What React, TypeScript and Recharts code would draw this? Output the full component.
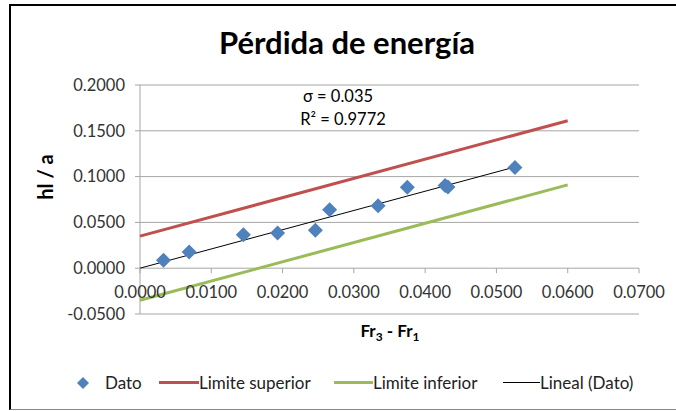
import { ScatterChart, Scatter, XAxis, YAxis, CartesianGrid, Legend, Customized } from 'recharts';

// Datos medidos
const datoX = [0.0033, 0.0069, 0.0145, 0.0193, 0.0246, 0.0266, 0.0334, 0.0375, 0.0428, 0.0432, 0.0526];
const datoY = [0.0087, 0.0178, 0.0364, 0.0383, 0.0415, 0.0637, 0.0681, 0.0885, 0.0903, 0.0886, 0.1100];

// limites (+/- sigma) y linea de tendencia
const limX = [0, 0.06];
const supY = [0.035, 0.161];
const infY = [-0.035, 0.091];
const linX = [0, 0.0526];
const linY = [0, 0.1105];

const xTicks = [0, 0.01, 0.02, 0.03, 0.04, 0.05, 0.06, 0.07];
const yTicks = [-0.05, 0, 0.05, 0.1, 0.15, 0.2];

const dato = datoX.map((x, i) => ({ x, y: datoY[i] }));
const superior = limX.map((x, i) => ({ x, y: supY[i] }));
const inferior = limX.map((x, i) => ({ x, y: infY[i] }));
const lineal = linX.map((x, i) => ({ x, y: linY[i] }));

const FONT = 'Lato, "Open Sans", sans-serif';
const GRID = '#a6a6a6';
const W = 676;
const H = 411;
const LEGEND_H = 20;
const M = { top: 85, right: 37, bottom: 67 - LEGEND_H, left: 70 };
const PLOT_H = 229;
const ZERO_SHIFT = PLOT_H * (0.05 / 0.25);

const Diamond = (props: any) => {
  const { cx, cy } = props;
  const r = 7.5;
  return <polygon points={`${cx},${cy - r} ${cx + r},${cy} ${cx},${cy + r} ${cx - r},${cy}`} fill="#4f81bd" />;
};

const NoShape = () => <g />;

// eje X dibujado en y = 0 como en Excel
const XTick = (props: any) => {
  const { x, y, payload } = props;
  const y0 = y - ZERO_SHIFT;
  return (
    <g>
      <line x1={x} x2={x} y1={y0} y2={y0 + 5} stroke={GRID} />
      <text x={x} y={y0 + 30} textAnchor="middle" fontSize={16.5} fill="#333" fontFamily={FONT}>
        {payload.value.toFixed(4)}
      </text>
    </g>
  );
};

const Texts = () => (
  <g fontFamily={FONT}>
    <text x={347} y={54} textAnchor="middle" fontSize={31} fontWeight="bold" fill="#000">Pérdida de energía</text>
    <text x={338} y={102} textAnchor="middle" fontSize={16.5} fill="#000">σ = 0.035</text>
    <text x={343} y={125} textAnchor="middle" fontSize={16.5} fill="#000">R² = 0.9772</text>
    <text x={53} y={177} textAnchor="middle" fontSize={20} fontWeight="bold" fill="#000" transform="rotate(-90 53 177)">hl / a</text>
    <text x={390} y={337} textAnchor="middle" fontSize={17} fontWeight="bold" fill="#000">
      Fr<tspan fontSize={12} dy={4}>3</tspan><tspan dy={-4}> - Fr</tspan><tspan fontSize={12} dy={4}>1</tspan>
    </text>
  </g>
);

const LegendBox = () => {
  const item = { display: 'flex', alignItems: 'center', position: 'absolute' as const, top: 0 };
  const txt = { fontSize: 17, color: '#222', fontFamily: FONT, whiteSpace: 'nowrap' as const };
  return (
    <div style={{ position: 'relative', height: LEGEND_H, width: W }}>
      <div style={{ ...item, left: 77 }}>
        <svg width={12} height={12}><polygon points="6,0 12,6 6,12 0,6" fill="#4f81bd" /></svg>
        <span style={{ ...txt, marginLeft: 16 }}>Dato</span>
      </div>
      <div style={{ ...item, left: 159 }}>
        <div style={{ width: 40, height: 3, background: '#c0504d' }} />
        <span style={txt}>Limite superior</span>
      </div>
      <div style={{ ...item, left: 334 }}>
        <div style={{ width: 39, height: 3, background: '#9bbb59' }} />
        <span style={txt}>Limite inferior</span>
      </div>
      <div style={{ ...item, left: 503 }}>
        <div style={{ width: 37, height: 1, background: '#000' }} />
        <span style={txt}>Lineal (Dato)</span>
      </div>
    </div>
  );
};

export default function App() {
  return (
    <div style={{ position: 'absolute', left: 0, top: 0, width: W, height: H, background: '#fff', overflow: 'hidden' }}>
      <div style={{ position: 'absolute', left: 9, top: 4, width: 720, height: 403, borderTop: '2px solid #000', borderLeft: '2px solid #000', borderBottom: '1px solid #888' }} />
      <ScatterChart width={W} height={H} margin={M} style={{ position: 'absolute', left: 0, top: 0 }}>
        <CartesianGrid vertical={false} stroke={GRID} />
        <XAxis
          type="number"
          dataKey="x"
          domain={[0, 0.07]}
          ticks={xTicks}
          axisLine={false}
          tickLine={false}
          tickSize={0}
          tickMargin={0}
          height={30}
          tick={<XTick />}
          interval={0}
        />
        <YAxis
          type="number"
          dataKey="y"
          domain={[-0.05, 0.2]}
          ticks={yTicks}
          width={70}
          stroke={GRID}
          tickSize={5}
          tickMargin={10}
          tick={{ fontSize: 16.5, fill: '#333', fontFamily: FONT }}
          tickFormatter={(v: number) => v.toFixed(4)}
          interval={0}
        />
        <Scatter name="Limite superior" data={superior} line={{ stroke: '#c0504d', strokeWidth: 3 }} shape={NoShape} isAnimationActive={false} />
        <Scatter name="Limite inferior" data={inferior} line={{ stroke: '#9bbb59', strokeWidth: 3 }} shape={NoShape} isAnimationActive={false} />
        <Scatter name="Lineal (Dato)" data={lineal} line={{ stroke: '#000', strokeWidth: 1 }} shape={NoShape} isAnimationActive={false} />
        <Scatter name="Dato" data={dato} shape={Diamond} isAnimationActive={false} />
        <Legend content={<LegendBox />} wrapperStyle={{ position: 'absolute', top: 372, left: 0, width: W }} />
        <Customized component={Texts} />
      </ScatterChart>
    </div>
  );
}
